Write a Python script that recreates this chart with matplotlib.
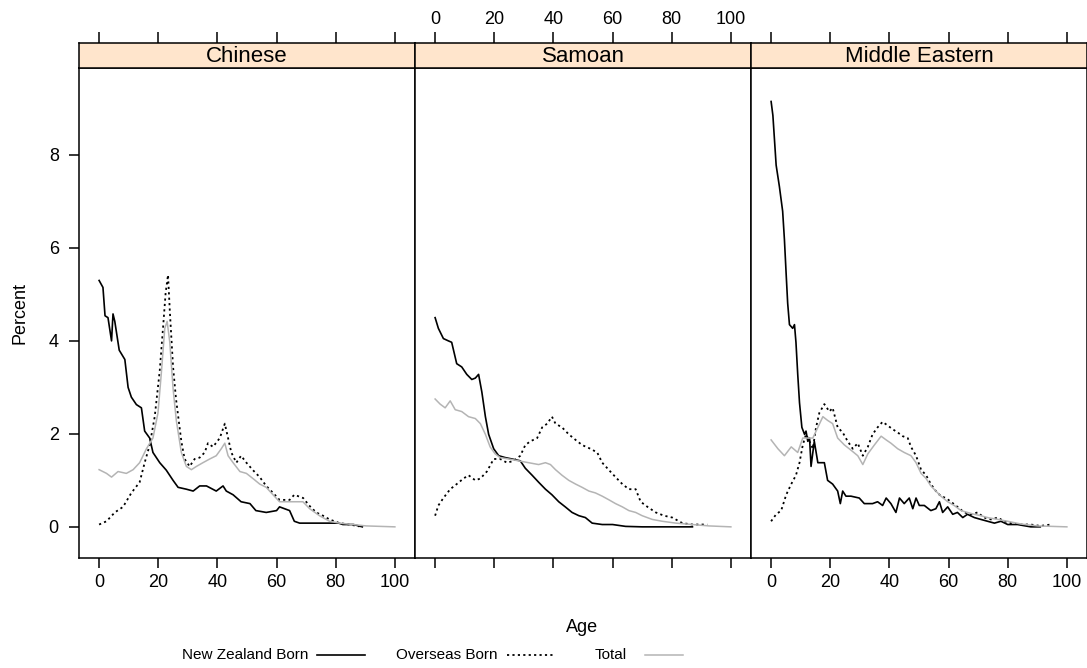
import matplotlib
matplotlib.use("Agg")
import matplotlib.pyplot as plt
from matplotlib.lines import Line2D

plt.rcParams['font.family'] = ['Liberation Sans', 'DejaVu Sans']

# --- datos (edad, porcentaje) ---
groups = ["Chinese", "Samoan", "Middle Eastern"]

chinese_nz_age = [0, 1.3, 2, 3, 4.2, 4.7, 5.3, 6.8, 8.7, 9.8, 10.9, 12.6, 14.3, 15.4, 17.1, 18.2, 20.5,
                  22.7, 25, 26.7, 29.5, 31.8, 34, 36.3, 39.6, 41.9, 43, 45.3, 48, 51, 53, 56.5, 60, 61,
                  64.4, 66, 67.8, 72, 77, 81, 82.4, 86, 89]
chinese_nz = [5.3, 5.15, 4.54, 4.5, 4.0, 4.58, 4.42, 3.8, 3.6, 3.0, 2.79, 2.63, 2.56, 2.06, 1.91, 1.6, 1.38,
              1.22, 1.0, 0.85, 0.81, 0.77, 0.88, 0.88, 0.77, 0.88, 0.77, 0.69, 0.54, 0.5, 0.35, 0.31, 0.35, 0.43,
              0.35, 0.12, 0.08, 0.08, 0.08, 0.08, 0.05, 0.05, 0.0]
chinese_os_age = [0, 2.5, 5.3, 8.1, 10.9, 13.7, 15.4, 17.1, 18.8, 20.5, 21.6, 22.5, 23.3, 23.9, 25, 26, 27.8,
                  28.9, 30.6, 32.3, 34, 35.7, 36.8, 38.5, 40.8, 42.5, 43.6, 44.7, 46.4, 48, 49.8, 52, 54.3,
                  56.5, 58.8, 61, 64.4, 66, 69, 71, 73.4, 75.7, 77.9, 81.3, 84.7, 88]
chinese_os = [0.05, 0.12, 0.31, 0.43, 0.73, 0.96, 1.38, 1.76, 2.37, 3.36, 4.27, 5.04, 5.42, 4.65, 3.44, 2.75, 1.84,
              1.46, 1.30, 1.46, 1.49, 1.6, 1.8, 1.72, 1.91, 2.22, 1.91, 1.6, 1.38, 1.53, 1.38, 1.22, 1.07,
              0.88, 0.73, 0.58, 0.58, 0.69, 0.62, 0.46, 0.31, 0.24, 0.16, 0.08, 0.05, 0.01]
chinese_tot_age = [0, 2.5, 4.2, 6.4, 9.2, 11.5, 13.7, 16, 18.2, 19.9, 21, 22.2, 23, 23.9, 25, 26.1, 27.8,
                   29.5, 31.2, 32.9, 35.1, 37.4, 39.6, 41.3, 42.5, 43.6, 45.3, 47.6, 49.8, 52, 54.3, 56.5,
                   58.8, 61, 64.4, 66.7, 68.9, 71.2, 74.5, 77.9, 81.3, 85.8, 90.3, 100]
chinese_tot = [1.23, 1.15, 1.07, 1.19, 1.15, 1.23, 1.38, 1.68, 1.91, 2.45, 3.28, 4.27, 4.42, 3.97, 2.98, 2.29, 1.6,
               1.3, 1.23, 1.3, 1.38, 1.46, 1.53, 1.68, 1.8, 1.53, 1.38, 1.19, 1.15, 1.04, 0.92, 0.85,
               0.69, 0.54, 0.54, 0.54, 0.54, 0.39, 0.24, 0.12, 0.08, 0.05, 0.02, 0.0]

samoan_nz_age = [0, 1.1, 2.8, 4.5, 5.6, 7.3, 9, 10.7, 12.4, 13.6, 14.7, 15.8, 17, 18.1, 19.8, 21.5, 23.7,
                 26, 28.8, 30.5, 32.8, 35, 37.3, 39.5, 41.8, 44, 46.3, 48.6, 50.8, 53.1, 56.5, 60, 64.4, 70, 87]
samoan_nz = [4.5, 4.27, 4.05, 4.0, 3.97, 3.51, 3.44, 3.28, 3.17, 3.2, 3.28, 2.9, 2.37, 1.99, 1.68, 1.53, 1.49,
             1.46, 1.42, 1.26, 1.11, 0.96, 0.81, 0.69, 0.54, 0.43, 0.31, 0.24, 0.2, 0.08, 0.05, 0.05, 0.01, 0.0, 0.0]
samoan_os_age = [0, 1.1, 2.8, 5.1, 7.3, 9.6, 11.3, 13.6, 15.3, 17.5, 19.8, 22, 24.3, 26.6, 28.8, 30.5, 32.2,
                 34.5, 36.2, 37.9, 39.5, 40.7, 42.9, 45.2, 47.5, 49.7, 52.5, 54.8, 56.5, 58.8, 61, 63.3, 65.5,
                 67.8, 69.5, 71.8, 74.6, 77.4, 80.2, 83.6, 87, 92]
samoan_os = [0.24, 0.46, 0.62, 0.81, 0.92, 1.04, 1.11, 1.0, 1.04, 1.19, 1.46, 1.46, 1.38, 1.42, 1.53, 1.76, 1.84,
             1.91, 2.14, 2.22, 2.37, 2.22, 2.14, 1.99, 1.87, 1.76, 1.68, 1.6, 1.38, 1.22, 1.07, 0.92, 0.81,
             0.81, 0.54, 0.43, 0.31, 0.24, 0.2, 0.08, 0.05, 0.05]
samoan_tot_age = [0, 1.7, 3.4, 5.1, 6.8, 9, 11.3, 13.6, 15.3, 17, 18.6, 20.3, 22, 24.9, 28.2, 31.6, 35, 37.3,
                  39, 40.7, 42.9, 45.2, 47.5, 49.7, 52, 54.2, 56.5, 58.8, 61, 63.3, 65.5, 67.8, 70, 73.4,
                  76.8, 81.4, 87, 92.6, 100]
samoan_tot = [2.75, 2.64, 2.56, 2.71, 2.52, 2.48, 2.37, 2.33, 2.22, 1.99, 1.72, 1.57, 1.49, 1.46, 1.42, 1.38, 1.34, 1.38,
              1.34, 1.23, 1.11, 1.0, 0.92, 0.85, 0.77, 0.73, 0.66, 0.58, 0.5, 0.43, 0.35, 0.31, 0.24, 0.16,
              0.12, 0.08, 0.05, 0.02, 0.0]

mideast_nz_age = [0, 0.6, 1.7, 2.8, 3.9, 4.5, 5.1, 5.6, 6.2, 7.3, 7.9, 8.4, 9, 9.6, 10.4, 11.3, 11.8, 12.4, 13,
                  13.5, 14.6, 15.8, 18, 19.1, 20.8, 22.5, 23.4, 24.2, 25.3, 27, 29.8, 31.5, 34.3, 36, 37.7,
                  38.9, 40.5, 42.2, 43.4, 45, 46.7, 47.9, 49, 50.1, 51.8, 54, 55.7, 56.9, 58, 59.7, 61.4, 63,
                  64.8, 66.4, 68.7, 70.9, 73.2, 75.5, 77.7, 80, 83.3, 87.8, 91]
mideast_nz = [9.15, 8.85, 7.78, 7.32, 6.79, 6.18, 5.42, 4.81, 4.35, 4.27, 4.35, 3.97, 3.28, 2.67, 2.14, 1.99, 2.06,
              1.84, 1.91, 1.3, 1.84, 1.38, 1.38, 1.0, 0.92, 0.77, 0.5, 0.77, 0.66, 0.66, 0.62, 0.5, 0.5, 0.54,
              0.46, 0.62, 0.5, 0.31, 0.62, 0.5, 0.62, 0.39, 0.62, 0.46, 0.46, 0.35, 0.39, 0.54, 0.31, 0.43,
              0.27, 0.31, 0.2, 0.27, 0.2, 0.16, 0.12, 0.08, 0.12, 0.05, 0.05, 0.0, 0.0]
mideast_os_age = [0, 1.7, 3.4, 5.1, 6.8, 8.4, 9.6, 10.7, 11.8, 13, 14.1, 15.2, 16.3, 18, 19.7, 20.8, 22.5,
                  24.2, 25.9, 27.6, 29.3, 31, 32.7, 34.3, 36, 37.7, 39.4, 41.1, 42.8, 44.5, 46.2, 47.3, 49,
                  50.7, 52.4, 54, 55.7, 57.4, 59.1, 60.8, 63, 65.3, 67.6, 69.8, 72, 74.3, 76.6, 78.8, 81,
                  84.5, 87.8, 91, 94.6]
mideast_os = [0.12, 0.27, 0.35, 0.69, 0.92, 1.11, 1.38, 1.76, 1.99, 1.84, 1.68, 2.14, 2.45, 2.64, 2.48, 2.56, 2.14,
              2.03, 1.84, 1.68, 1.8, 1.53, 1.72, 1.99, 2.14, 2.26, 2.18, 2.1, 2.03, 1.95, 1.91, 1.72, 1.53,
              1.23, 1.11, 0.92, 0.77, 0.66, 0.62, 0.54, 0.43, 0.31, 0.27, 0.31, 0.2, 0.16, 0.2, 0.12, 0.08,
              0.05, 0.05, 0.02, 0.05]
mideast_tot_age = [0, 2.3, 4.5, 6.8, 9, 10.7, 12.4, 14.1, 15.8, 17.5, 19.1, 20.8, 22.5, 24.8, 27, 29.3, 31,
                   32.7, 34.9, 37.2, 38.9, 40.5, 42.8, 45, 47.3, 49, 50.7, 52.4, 54, 55.7, 57.4, 59.7, 61.9,
                   64.2, 66.4, 68.7, 70.9, 73.2, 76.6, 80, 84.5, 90, 100]
mideast_tot = [1.87, 1.68, 1.53, 1.72, 1.6, 1.91, 1.91, 1.91, 2.14, 2.37, 2.29, 2.22, 1.91, 1.76, 1.65, 1.53, 1.34,
               1.57, 1.76, 1.95, 1.87, 1.8, 1.68, 1.6, 1.53, 1.38, 1.15, 1.04, 0.88, 0.77, 0.66, 0.54, 0.46,
               0.35, 0.31, 0.27, 0.24, 0.2, 0.16, 0.12, 0.06, 0.02, 0.0]

series = [
    [(chinese_nz_age, chinese_nz), (chinese_os_age, chinese_os), (chinese_tot_age, chinese_tot)],
    [(samoan_nz_age, samoan_nz), (samoan_os_age, samoan_os), (samoan_tot_age, samoan_tot)],
    [(mideast_nz_age, mideast_nz), (mideast_os_age, mideast_os), (mideast_tot_age, mideast_tot)],
]
legend_labels = ["New Zealand Born", "Overseas Born", "Total"]
xticks = [0, 20, 40, 60, 80, 100]
yticks = [0, 2, 4, 6, 8]

# --- estilos ---
estilos = [dict(color='black', lw=1.2, ls='-'),
           dict(color='black', lw=1.3, ls=(0, (1.2, 1.8))),
           dict(color='#b4b4b4', lw=1.1, ls='-')]
W, H = 1087.0, 668.0
izq = 79 / W
ancho = 336 / W
abajo = (H - 558) / H
alto = (558 - 68) / H
alto_tira = 25 / H
fs_tick = 13
fs_tira = 16
fs_ley = 11

fig = plt.figure(figsize=(10.87, 6.68), dpi=100)

for i, nombre in enumerate(groups):
    x0 = izq + i * ancho
    ax = fig.add_axes([x0, abajo, ancho, alto])
    for (edad, val), est in zip(series[i], estilos):
        ax.plot(edad, val, **est)
    ax.set_xlim(-6.8, 106.8)
    ax.set_ylim(-0.67, 9.87)
    ax.set_xticks(xticks)
    ax.set_yticks(yticks)
    ax.tick_params(direction='out', length=7.5, width=1.1, labelsize=fs_tick, pad=4)
    ax.tick_params(axis='y', pad=7)
    for s in ax.spines.values():
        s.set_linewidth(1.1)
    if i == 0:
        ax.tick_params(axis='y', left=True, labelleft=True)
    else:
        ax.tick_params(axis='y', left=False, labelleft=False)
    ax.tick_params(axis='x', bottom=True, labelbottom=(i != 1))

    # tira con el nombre
    tira = fig.add_axes([x0, abajo + alto, ancho, alto_tira])
    tira.set_facecolor('#ffe5cc')
    tira.set_xlim(-6.8, 106.8)
    tira.set_yticks([])
    tira.xaxis.tick_top()
    tira.set_xticks(xticks)
    tira.tick_params(axis='x', direction='out', length=8, width=1.1, labelsize=fs_tick, pad=3,
                     labeltop=(i == 1))
    for s in tira.spines.values():
        s.set_linewidth(1.1)
    tira.text(0.5, 0.47, nombre, transform=tira.transAxes, ha='center', va='center', fontsize=fs_tira)

fig.text(20 / W, 1 - 313 / H, 'Percent', rotation=90, ha='center', va='center', fontsize=13)
fig.text(582 / W, 1 - 627 / H, 'Age', ha='center', va='center', fontsize=13)

# leyenda abajo
ly = 1 - 655 / H
pos_texto = [308, 498, 627]
pos_linea = [(317, 365), (507, 553), (645, 683)]
for etiqueta, xt, (a, b), est in zip(legend_labels, pos_texto, pos_linea, estilos):
    fig.text(xt / W, ly, etiqueta, ha='right', va='center', fontsize=fs_ley)
    fig.add_artist(Line2D([a / W, b / W], [ly, ly], transform=fig.transFigure, **est))

fig.savefig('out.png', dpi=100)
